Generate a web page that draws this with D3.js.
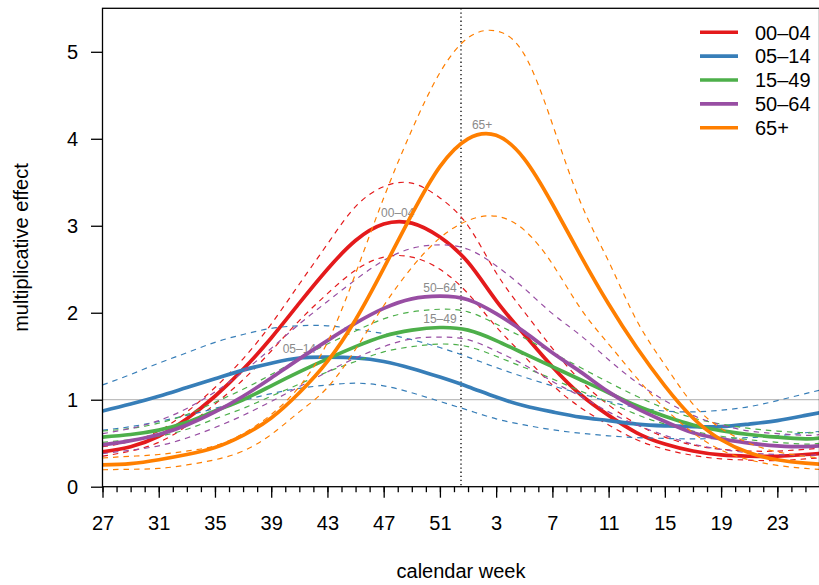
<!DOCTYPE html>
<html>
<head>
<meta charset="utf-8">
<script src="https://cdn.jsdelivr.net/npm/d3@7"></script>
<style>
  body { margin: 0; background: #ffffff; }
  svg { display: block; }
  text { font-family: "Liberation Sans", Arial, Helvetica, sans-serif; }
</style>
</head>
<body>
<svg id="chart" width="819" height="585"></svg>
<script>
// ---------------- data ----------------
// calendar weeks at which values were read (season runs from week 27 to week 26)
const weeks = [27, 29, 31, 33, 35, 37, 39, 41, 43, 45, 47, 49, 51, 1, 3, 5, 7, 9, 11, 13, 15, 17, 19, 21, 23, 25, 26];

const groups = ["00\u201304", "05\u201314", "15\u201349", "50\u201364", "65+"];
const colors = ["#E41A1C", "#377EB8", "#4DAF4A", "#984EA3", "#FF7F00"];

// estimates and confidence limits (multiplicative effect)
const est0004 = [0.40, 0.46, 0.58, 0.78, 1.04, 1.35, 1.71, 2.11, 2.50, 2.83, 3.02, 3.03, 2.87, 2.58, 2.14, 1.75, 1.38, 1.06, 0.82, 0.62, 0.49, 0.41, 0.365, 0.35, 0.35, 0.37, 0.38];
const hi0004  = [0.46, 0.52, 0.64, 0.86, 1.14, 1.47, 1.87, 2.33, 2.79, 3.22, 3.45, 3.49, 3.32, 3.00, 2.46, 2.01, 1.59, 1.22, 0.94, 0.72, 0.57, 0.48, 0.43, 0.41, 0.41, 0.43, 0.44];
const lo0004  = [0.35, 0.41, 0.51, 0.70, 0.95, 1.23, 1.56, 1.91, 2.22, 2.49, 2.64, 2.64, 2.50, 2.22, 1.84, 1.50, 1.17, 0.91, 0.71, 0.54, 0.43, 0.36, 0.32, 0.305, 0.30, 0.32, 0.33];

const est0514 = [0.87, 0.95, 1.04, 1.14, 1.24, 1.34, 1.42, 1.48, 1.49, 1.48, 1.44, 1.36, 1.26, 1.15, 1.03, 0.93, 0.86, 0.80, 0.76, 0.72, 0.70, 0.69, 0.69, 0.72, 0.76, 0.82, 0.85];
const hi0514  = [1.17, 1.29, 1.42, 1.54, 1.66, 1.75, 1.82, 1.85, 1.85, 1.81, 1.76, 1.69, 1.60, 1.49, 1.37, 1.26, 1.16, 1.07, 0.98, 0.91, 0.87, 0.86, 0.88, 0.92, 0.99, 1.07, 1.11];
const lo0514  = [0.65, 0.69, 0.75, 0.82, 0.90, 0.99, 1.07, 1.13, 1.17, 1.19, 1.16, 1.08, 0.98, 0.88, 0.78, 0.71, 0.655, 0.615, 0.585, 0.565, 0.555, 0.55, 0.555, 0.565, 0.585, 0.62, 0.635];

const est1549 = [0.57, 0.60, 0.65, 0.74, 0.87, 1.00, 1.16, 1.32, 1.47, 1.61, 1.73, 1.80, 1.83, 1.80, 1.68, 1.53, 1.38, 1.23, 1.08, 0.93, 0.81, 0.71, 0.645, 0.60, 0.57, 0.55, 0.56];
const hi1549  = [0.64, 0.67, 0.73, 0.83, 0.97, 1.12, 1.29, 1.47, 1.64, 1.79, 1.93, 2.01, 2.04, 2.01, 1.87, 1.71, 1.54, 1.37, 1.20, 1.04, 0.90, 0.79, 0.72, 0.67, 0.64, 0.62, 0.63];
const lo1549  = [0.51, 0.54, 0.58, 0.66, 0.78, 0.90, 1.04, 1.18, 1.32, 1.44, 1.55, 1.61, 1.64, 1.61, 1.50, 1.37, 1.24, 1.10, 0.97, 0.83, 0.72, 0.64, 0.58, 0.54, 0.51, 0.49, 0.50];

const est5064 = [0.48, 0.53, 0.60, 0.71, 0.86, 1.04, 1.25, 1.47, 1.68, 1.88, 2.05, 2.16, 2.19, 2.15, 1.99, 1.78, 1.54, 1.32, 1.09, 0.90, 0.75, 0.62, 0.55, 0.50, 0.47, 0.46, 0.47];
const hi5064  = [0.61, 0.67, 0.76, 0.90, 1.09, 1.32, 1.59, 1.87, 2.13, 2.38, 2.60, 2.74, 2.78, 2.73, 2.54, 2.28, 1.99, 1.74, 1.46, 1.20, 0.99, 0.82, 0.71, 0.64, 0.61, 0.59, 0.60];
const lo5064  = [0.38, 0.42, 0.47, 0.56, 0.68, 0.82, 0.98, 1.15, 1.32, 1.48, 1.61, 1.70, 1.72, 1.69, 1.56, 1.40, 1.21, 1.04, 0.86, 0.71, 0.59, 0.49, 0.43, 0.39, 0.37, 0.36, 0.37];

const est65 = [0.25, 0.265, 0.31, 0.37, 0.45, 0.59, 0.79, 1.08, 1.44, 1.92, 2.51, 3.13, 3.68, 4.00, 4.04, 3.77, 3.25, 2.66, 2.10, 1.60, 1.16, 0.79, 0.54, 0.39, 0.31, 0.27, 0.26];
const hi65  = [0.33, 0.35, 0.37, 0.41, 0.47, 0.61, 0.83, 1.15, 1.66, 2.45, 3.32, 4.10, 4.76, 5.16, 5.24, 4.97, 4.17, 3.27, 2.59, 1.91, 1.40, 0.95, 0.67, 0.50, 0.40, 0.35, 0.33];
const lo65  = [0.195, 0.20, 0.21, 0.25, 0.31, 0.41, 0.60, 0.86, 1.14, 1.58, 2.08, 2.52, 2.86, 3.06, 3.11, 2.95, 2.56, 2.05, 1.64, 1.25, 0.90, 0.62, 0.42, 0.31, 0.245, 0.21, 0.20];

const estimates = [est0004, est0514, est1549, est5064, est65];
const upper = [hi0004, hi0514, hi1549, hi5064, hi65];
const lower = [lo0004, lo0514, lo1549, lo5064, lo65];

// calendar week at which each curve label is written
const labelWeeks = [48, 41, 51, 51, 2];

// axis ticks
const tickWeeks = [27, 31, 35, 39, 43, 47, 51, 3, 7, 11, 15, 19, 23];
const yTicks = [0, 1, 2, 3, 4, 5];
const yMax = 5.5;
const yearChange = 25.5;   // position (season week index) of the turn of the year
const refLevel = 1;

// ---------------- drawing ----------------
const svg = d3.select("#chart");
const pL = 102.5, pR = 819.5, pT = 8.3, pB = 486.7;

const seasonIndex = w => (w - 27 + 52) % 52;

const x = d3.scaleLinear().domain([0, 51]).range([pL, pR]);
const y = d3.scaleLinear().domain([0, yMax]).range([pB, pT]);

const defs = svg.append("defs");
defs.append("clipPath").attr("id", "plotclip")
  .append("rect").attr("x", pL).attr("y", pT).attr("width", pR - pL).attr("height", pB - pT);

const plot = svg.append("g").attr("clip-path", "url(#plotclip)");

// reference line at 1
plot.append("line")
  .attr("x1", pL).attr("x2", pR)
  .attr("y1", y(refLevel)).attr("y2", y(refLevel))
  .attr("stroke", "#bebebe").attr("stroke-width", 1.3);

// turn of the year
plot.append("line")
  .attr("x1", x(yearChange)).attr("x2", x(yearChange))
  .attr("y1", pT).attr("y2", pB)
  .attr("stroke", "#000").attr("stroke-width", 1.3)
  .attr("stroke-dasharray", "1.3,2.8");

const line = d3.line()
  .x((d, i) => x(seasonIndex(weeks[i])))
  .y(d => y(d))
  .curve(d3.curveNatural);

function yAtX(node, xt) {
  const L = node.getTotalLength();
  let best = null, bd = Infinity;
  for (let l = 0; l <= L; l += 0.5) {
    const p = node.getPointAtLength(l);
    const d = Math.abs(p.x - xt);
    if (d < bd) { bd = d; best = p; }
  }
  return best.y;
}

groups.forEach((g, k) => {
  [upper[k], lower[k]].forEach(arr => {
    plot.append("path")
      .datum(arr)
      .attr("d", line)
      .attr("fill", "none")
      .attr("stroke", colors[k])
      .attr("stroke-width", 1.2)
      .attr("stroke-dasharray", "5.5,5");
  });
  const p = plot.append("path")
    .datum(estimates[k])
    .attr("d", line)
    .attr("fill", "none")
    .attr("stroke", colors[k])
    .attr("stroke-width", 3.7)
    .attr("stroke-linejoin", "round")
    .attr("stroke-linecap", "round");
  const lx = x(seasonIndex(labelWeeks[k]));
  const ly = yAtX(p.node(), lx);
  plot.append("text")
    .attr("x", lx).attr("y", ly - 4.5)
    .attr("text-anchor", "middle")
    .attr("font-size", 12)
    .attr("fill", "#8a8a8a")
    .text(g);
});

// frame
svg.append("rect")
  .attr("x", pL).attr("y", pT)
  .attr("width", pR - pL).attr("height", pB - pT)
  .attr("fill", "none").attr("stroke", "#000").attr("stroke-width", 1.3);

// x axis: minor ticks every week, labelled ticks every four weeks
const xMinor = svg.append("g").attr("transform", `translate(0,${pB})`)
  .call(d3.axisBottom(x).tickValues(d3.range(0, 52)).tickSize(5.5).tickFormat(""));
const majorIdx = tickWeeks.map(seasonIndex);
const xMajor = svg.append("g").attr("transform", `translate(0,${pB})`)
  .call(d3.axisBottom(x).tickValues(majorIdx).tickSize(11)
    .tickFormat(i => tickWeeks[majorIdx.indexOf(i)]));
[xMinor, xMajor].forEach(a => {
  a.select(".domain").remove();
  a.selectAll(".tick line").attr("stroke", "#000").attr("stroke-width", 1.3);
});
xMajor.selectAll(".tick text")
  .attr("y", 43.3).attr("dy", 0)
  .attr("font-size", 20).attr("fill", "#000")
  .attr("font-family", "'Liberation Sans', Arial, sans-serif");

// y axis
const yAx = svg.append("g").attr("transform", `translate(${pL},0)`)
  .call(d3.axisLeft(y).tickValues(yTicks).tickSize(11.5).tickPadding(13).tickFormat(d3.format("d")));
yAx.select(".domain").remove();
yAx.selectAll(".tick line").attr("stroke", "#000").attr("stroke-width", 1.3);
yAx.selectAll(".tick text")
  .attr("font-size", 20).attr("fill", "#000").attr("dy", "0.36em")
  .attr("font-family", "'Liberation Sans', Arial, sans-serif");

// axis titles
svg.append("text")
  .attr("x", (pL + pR) / 2).attr("y", 578)
  .attr("text-anchor", "middle").attr("font-size", 20).attr("fill", "#000")
  .text("calendar week");
svg.append("text")
  .attr("transform", `translate(28,${(pT + pB) / 2}) rotate(-90)`)
  .attr("text-anchor", "middle").attr("font-size", 20).attr("fill", "#000")
  .text("multiplicative effect");

// legend
const legend = svg.append("g");
groups.forEach((g, k) => {
  const ry = 32.3 + k * 23.85;
  legend.append("line")
    .attr("x1", 700).attr("x2", 738).attr("y1", ry).attr("y2", ry)
    .attr("stroke", colors[k]).attr("stroke-width", 3.6);
  legend.append("text")
    .attr("x", 755).attr("y", ry).attr("dy", "0.36em")
    .attr("font-size", 20).attr("fill", "#000")
    .text(g);
});
</script>
</body>
</html>
